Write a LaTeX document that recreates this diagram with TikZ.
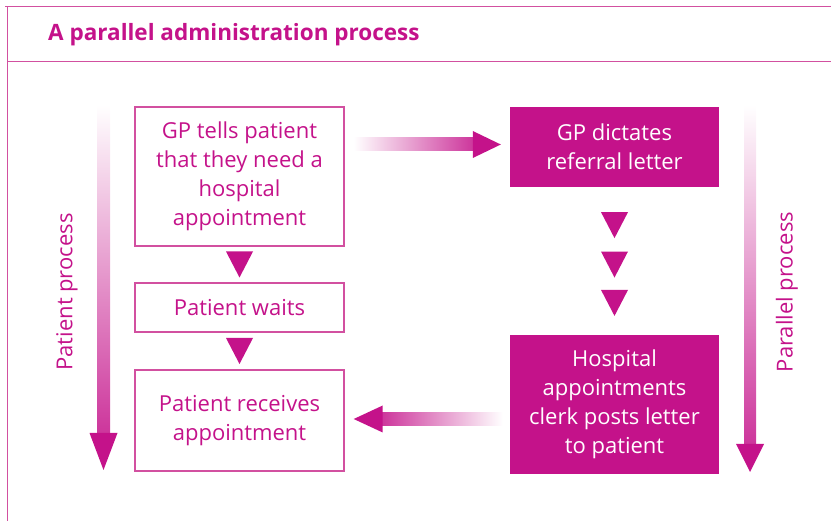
\documentclass[tikz,border=0pt]{standalone}
\usepackage{fontspec}
\setmainfont{Open Sans}
\usetikzlibrary{calc}
\definecolor{mag}{RGB}{196,18,138}
\definecolor{lmag}{RGB}{210,80,160}
\begin{document}
\begin{tikzpicture}[x=1pt,y=-1pt,
  box/.style={draw=lmag, line width=1.4pt, text=mag, align=center,
    font=\fontsize{22}{29}\selectfont, inner sep=0pt, minimum width=209pt},
  fbox/.style={fill=mag, text=white, align=center,
    font=\fontsize{22}{29}\selectfont, inner sep=0pt, minimum width=209pt},
  frame/.style={draw=lmag, line width=1.4pt},
  sidelabel/.style={text=mag, rotate=90, font=\fontsize{22}{25}\selectfont}]
\useasboundingbox (0,0) rectangle (831,521);
% frame
\draw[frame] (5,6.5) -- (831,6.5);
\draw[frame] (7.5,6.5) -- (7.5,521);
\draw[frame] (7.5,61.5) -- (831,61.5);
\node[anchor=base west, text=mag, font=\fontsize{22.5}{26}\bfseries\selectfont, inner sep=0pt] (title) at (48,41) {A parallel administration process};
% boxes
\node[box, minimum height=139pt] (b1) at (239.5,176.5) {GP tells patient\\that they need a\\hospital\\appointment};
\node[box, minimum height=49pt] (b2) at (239.5,307.5) {Patient waits};
\node[box, minimum height=101pt] (b3) at (239.5,420.5) {Patient receives\\appointment};
\node[fbox, minimum height=80pt] (f1) at (614.5,147) {GP dictates\\referral letter};
\node[fbox, minimum height=139pt] (f2) at (614.5,404.5) {Hospital\\appointments\\clerk posts letter\\to patient};
% down triangles
\foreach \a/\b/\t in {b1/b2/0.5, b2/b3/0.5, f1/f2/0.257, f1/f2/0.524, f1/f2/0.784}{
  \coordinate (m) at ($(\a.south)!\t!(\b.north)$);
  \fill[mag] ($(m)+(-13.5,-13)$) -- ($(m)+(13.5,-13)$) -- ($(m)+(0,13)$) -- cycle;
}
% horizontal arrows
\coordinate (r1) at ($(b1.east)+(9,-32)$);
\coordinate (r2) at ($(f1.west)+(-9,-2.5)$);
\shade[left color=white, right color=mag!85!white] ($(r1)+(0,-6.5)$) rectangle ($(r2)+(-27,6.5)$);
\fill[mag] ($(r2)+(-28,-13.5)$) -- (r2) -- ($(r2)+(-28,13.5)$) -- cycle;
\coordinate (l1) at ($(f2.west)+(-7,14.5)$);
\coordinate (l2) at ($(b3.east)+(9,-1.5)$);
\shade[right color=white, left color=mag!85!white] ($(l2)+(28,-6.5)$) rectangle ($(l1)+(0,6.5)$);
\fill[mag] ($(l2)+(29,-13.5)$) -- (l2) -- ($(l2)+(29,13.5)$) -- cycle;
% vertical gradient arrows
\coordinate (vl1) at (103.5,105);
\coordinate (vl2) at (103.5,470);
\shade[top color=white, bottom color=mag!85!white] ($(vl1)+(-6.5,0)$) rectangle ($(vl2)+(6.5,-36)$);
\fill[mag] ($(vl2)+(-14,-37)$) -- (vl2) -- ($(vl2)+(14,-37)$) -- cycle;
\coordinate (vr1) at (750,105);
\coordinate (vr2) at (750,472);
\shade[top color=white, bottom color=mag!85!white] ($(vr1)+(-6,0)$) rectangle ($(vr2)+(6,-27)$);
\fill[mag] ($(vr2)+(-14,-28)$) -- (vr2) -- ($(vr2)+(14,-28)$) -- cycle;
\node[sidelabel] (pl) at (67,292) {Patient process};
\node[sidelabel] (pr) at (787,292) {Parallel process};
\end{tikzpicture}
\end{document}
